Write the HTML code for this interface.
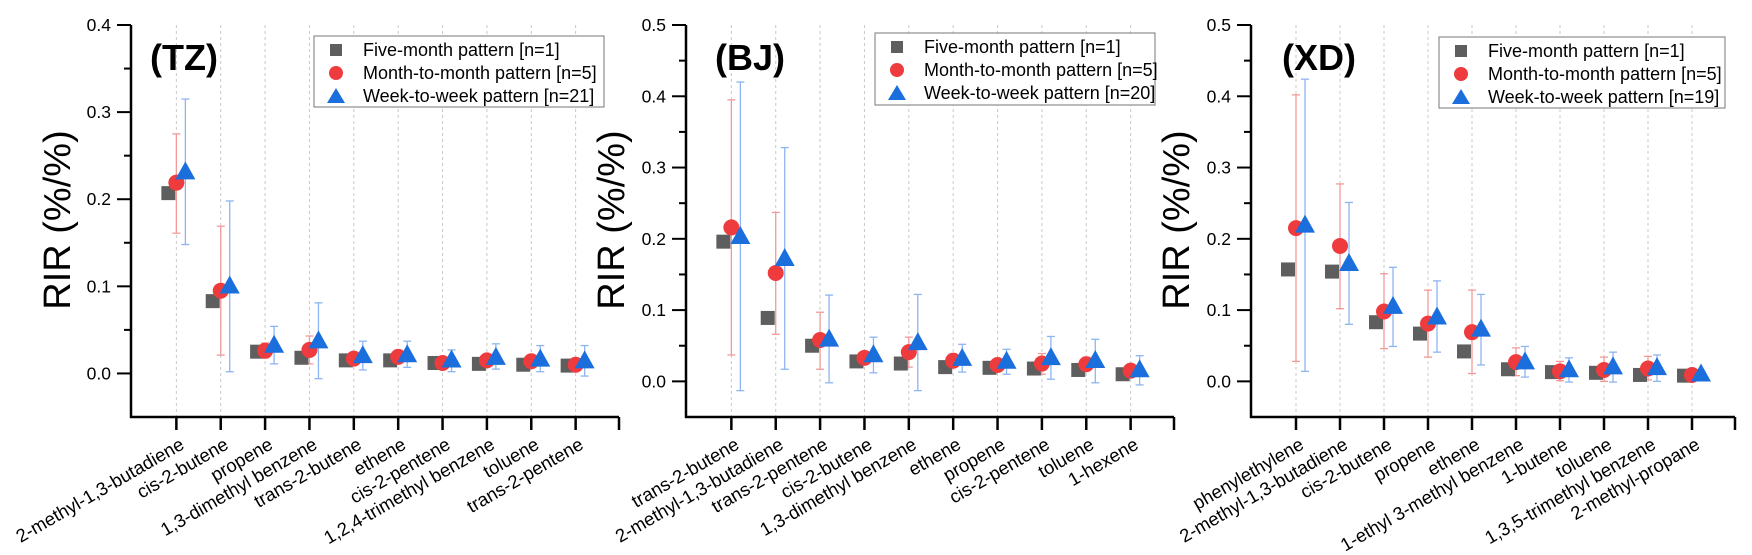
<!DOCTYPE html>
<html><head><meta charset="utf-8">
<style>
html,body{margin:0;padding:0;background:#fff;}
svg{display:block;font-family:"Liberation Sans",Arial,sans-serif;}
</style></head>
<body>
<svg id="chart" width="1752" height="555" viewBox="0 0 1752 555" xmlns="http://www.w3.org/2000/svg"></svg>
<script>
// ---- TZ data ----
const tzCats = ["2-methyl-1,3-butadiene","cis-2-butene","propene","1,3-dimethyl benzene","trans-2-butene","ethene","cis-2-pentene","1,2,4-trimethyl benzene","toluene","trans-2-pentene"];
const tzFive = [0.207,0.083,0.025,0.018,0.015,0.015,0.012,0.011,0.010,0.009];
const tzMonth = [0.219,0.095,0.026,0.027,0.017,0.019,0.012,0.015,0.014,0.010];
const tzMonthLo = [0.161,0.021,0.018,0.011,0.012,0.014,0.009,0.011,0.010,0.007];
const tzMonthHi = [0.275,0.169,0.035,0.043,0.024,0.027,0.016,0.020,0.018,0.013];
const tzWeek = [0.232,0.101,0.033,0.038,0.021,0.022,0.016,0.019,0.017,0.015];
const tzWeekLo = [0.148,0.002,0.011,-0.006,0.004,0.007,0.002,0.005,0.002,-0.003];
const tzWeekHi = [0.315,0.198,0.054,0.081,0.037,0.037,0.027,0.034,0.032,0.032];
const tzTicks = ["0.0","0.1","0.2","0.3","0.4"];
// ---- BJ data ----
const bjCats = ["trans-2-butene","2-methyl-1,3-butadiene","trans-2-pentene","cis-2-butene","1,3-dimethyl benzene","ethene","propene","cis-2-pentene","toluene","1-hexene"];
const bjFive = [0.196,0.089,0.050,0.028,0.025,0.020,0.019,0.018,0.016,0.010];
const bjMonth = [0.216,0.152,0.058,0.033,0.041,0.029,0.023,0.025,0.024,0.015];
const bjMonthLo = [0.037,0.066,0.017,0.025,0.020,0.020,0.016,0.010,0.015,0.010];
const bjMonthHi = [0.395,0.237,0.097,0.040,0.062,0.039,0.030,0.039,0.034,0.022];
const bjWeek = [0.204,0.173,0.060,0.038,0.055,0.033,0.029,0.034,0.030,0.017];
const bjWeekLo = [-0.013,0.017,-0.002,0.012,-0.013,0.013,0.010,0.003,-0.002,-0.005];
const bjWeekHi = [0.420,0.328,0.121,0.062,0.122,0.052,0.045,0.063,0.059,0.036];
const bjTicks = ["0.0","0.1","0.2","0.3","0.4","0.5"];
// ---- XD data ----
const xdCats = ["phenylethylene","2-methyl-1,3-butadiene","cis-2-butene","propene","ethene","1-ethyl 3-methyl benzene","1-butene","toluene","1,3,5-trimethyl benzene","2-methyl-propane"];
const xdFive = [0.157,0.154,0.083,0.067,0.042,0.017,0.013,0.012,0.009,0.008];
const xdMonth = [0.215,0.190,0.098,0.081,0.069,0.027,0.014,0.016,0.018,0.009];
const xdMonthLo = [0.028,0.102,0.046,0.034,0.011,0.008,0.001,0.000,0.002,0.004];
const xdMonthHi = [0.402,0.277,0.151,0.128,0.128,0.047,0.028,0.034,0.035,0.012];
const xdWeek = [0.220,0.166,0.106,0.091,0.074,0.028,0.017,0.021,0.020,0.011];
const xdWeekLo = [0.014,0.080,0.049,0.041,0.023,0.006,-0.001,-0.001,0.000,0.002];
const xdWeekHi = [0.424,0.251,0.160,0.141,0.122,0.049,0.033,0.041,0.037,0.014];
const xdTicks = ["0.0","0.1","0.2","0.3","0.4","0.5"];

const NS="http://www.w3.org/2000/svg";
const svg=document.getElementById('chart');
function el(tag,attrs,parent,text){const e=document.createElementNS(NS,tag);for(const k in attrs)e.setAttribute(k,attrs[k]);if(text!==undefined)e.textContent=text;(parent||svg).appendChild(e);return e;}

const panels=[
 {id:"tz",label:"(TZ)",cats:tzCats,five:tzFive,m:tzMonth,mlo:tzMonthLo,mhi:tzMonthHi,w:tzWeek,wlo:tzWeekLo,whi:tzWeekHi,ticks:tzTicks,ymax:0.4,x0:131,width:488,lx:[150,70],leg:[314,36,290,71],n:["1","5","21"],titleX:70},
 {id:"bj",label:"(BJ)",cats:bjCats,five:bjFive,m:bjMonth,mlo:bjMonthLo,mhi:bjMonthHi,w:bjWeek,wlo:bjWeekLo,whi:bjWeekHi,ticks:bjTicks,ymax:0.5,x0:686,width:488,lx:[715,70],leg:[875,33,280,72],n:["1","5","20"],titleX:624},
 {id:"xd",label:"(XD)",cats:xdCats,five:xdFive,m:xdMonth,mlo:xdMonthLo,mhi:xdMonthHi,w:xdWeek,wlo:xdWeekLo,whi:xdWeekHi,ticks:xdTicks,ymax:0.5,x0:1251,width:484,lx:[1282,70],leg:[1439,37,286,71],n:["1","5","19"],titleX:1189}
];
const TOP=25,BOT=417;
panels.forEach(p=>{
 const g=el('g',{});
 
 
 const ymin=-0.05;
 const y=v=>BOT-(v-ymin)/(p.ymax-ymin)*(BOT-TOP);
 const step=p.width/11;
 const x=i=>p.x0+(i+1)*step+1;
 p.cats.forEach((c,i)=>{const l=el('line',{x1:x(i),x2:x(i),y1:TOP,y2:BOT,stroke:'#c8c8c8','stroke-width':1,'stroke-dasharray':'3,3'},g);});
 const ya=el('line',{x1:p.x0,x2:p.x0,y1:TOP,y2:BOT+1,stroke:'#000','stroke-width':2.5},g);
 
 const xa=el('line',{x1:p.x0-1,x2:p.x0+p.width,y1:BOT,y2:BOT,stroke:'#000','stroke-width':2.5},g);
 
 el('line',{x1:p.x0+p.width,x2:p.x0+p.width,y1:BOT,y2:BOT+13,stroke:'#000','stroke-width':2.5},g);
 for(let k=0;k<=p.ticks.length*2-2;k++){const v=k*0.05;const yy=y(v);const major=k%2===0;
  el('line',{x1:p.x0-(major?14:7),x2:p.x0,y1:yy,y2:yy,stroke:'#000','stroke-width':2},g);}
 p.ticks.forEach(t=>{const tl=el('text',{x:p.x0-20,y:y(parseFloat(t))+6,'font-size':17.5,'text-anchor':'end',fill:'#000'},g,t);});
 const ty=el('text',{x:p.titleX,y:220,'font-size':38,'text-anchor':'middle',transform:`rotate(-90 ${p.titleX} 220)`,fill:'#000'},g,'RIR (%/%)');
 
 const pl=el('text',{x:p.lx[0],y:p.lx[1],'font-size':36,'font-weight':'bold',fill:'#000'},g,p.label);
 
 p.cats.forEach((c,i)=>{
  el('line',{x1:x(i),x2:x(i),y1:BOT,y2:BOT+13,stroke:'#000','stroke-width':2.5},g);
  const ax=x(i)+9, ay=448;
  const t=el('text',{x:ax,y:ay,'font-size':18.5,'text-anchor':'end',transform:`rotate(-30 ${ax} ${ay})`,fill:'#000'},g,c);
  
 });
 function ebar(cx,lo,hi,col){
  const a=el('g',{},g);
  
  el('line',{x1:cx,x2:cx,y1:y(lo),y2:y(hi),stroke:col,'stroke-width':1.3},a);
  el('line',{x1:cx-4,x2:cx+4,y1:y(lo),y2:y(lo),stroke:col,'stroke-width':1.3},a);
  el('line',{x1:cx-4,x2:cx+4,y1:y(hi),y2:y(hi),stroke:col,'stroke-width':1.3},a);
 }
 p.cats.forEach((c,i)=>{ebar(x(i),p.mlo[i],p.mhi[i],'#f29a9a');ebar(x(i)+9,p.wlo[i],p.whi[i],'#8db5f0');});
 p.cats.forEach((c,i)=>{
  const s=el('rect',{x:x(i)-8-7,y:y(p.five[i])-7,width:14,height:14,fill:'#5e5e5e'},g);
  
  const ci=el('circle',{cx:x(i),cy:y(p.m[i]),r:8,fill:'#ee3b3e'},g);
  
  const tx=x(i)+9,tyy=y(p.w[i]);
  const tr=el('polygon',{points:`${tx-10},${tyy+8} ${tx+10},${tyy+8} ${tx},${tyy-10}`,fill:'#1b6fdd'},g);
  
 });
 const [lx,ly,lw,lh]=p.leg;
 const lg=el('g',{},g);
 
 el('rect',{x:lx,y:ly,width:lw,height:lh,fill:'#fff',stroke:'#777','stroke-width':1},lg);
 const names=["Five-month pattern [n="+p.n[0]+"]","Month-to-month pattern [n="+p.n[1]+"]","Week-to-week pattern [n="+p.n[2]+"]"];
 names.forEach((nm,k)=>{
  const ry=ly+14+k*23, mx=lx+22;
  if(k===0) el('rect',{x:mx-6,y:ry-6,width:12,height:12,fill:'#5e5e5e'},lg);
  if(k===1) el('circle',{cx:mx,cy:ry,r:7,fill:'#ee3b3e'},lg);
  if(k===2) el('polygon',{points:`${mx-9},${ry+7} ${mx+9},${ry+7} ${mx},${ry-8}`,fill:'#1b6fdd'},lg);
  const lt=el('text',{x:lx+49,y:ry+6,'font-size':18,fill:'#000'},lg,nm);
  
 });
});
</script>
</body></html>
